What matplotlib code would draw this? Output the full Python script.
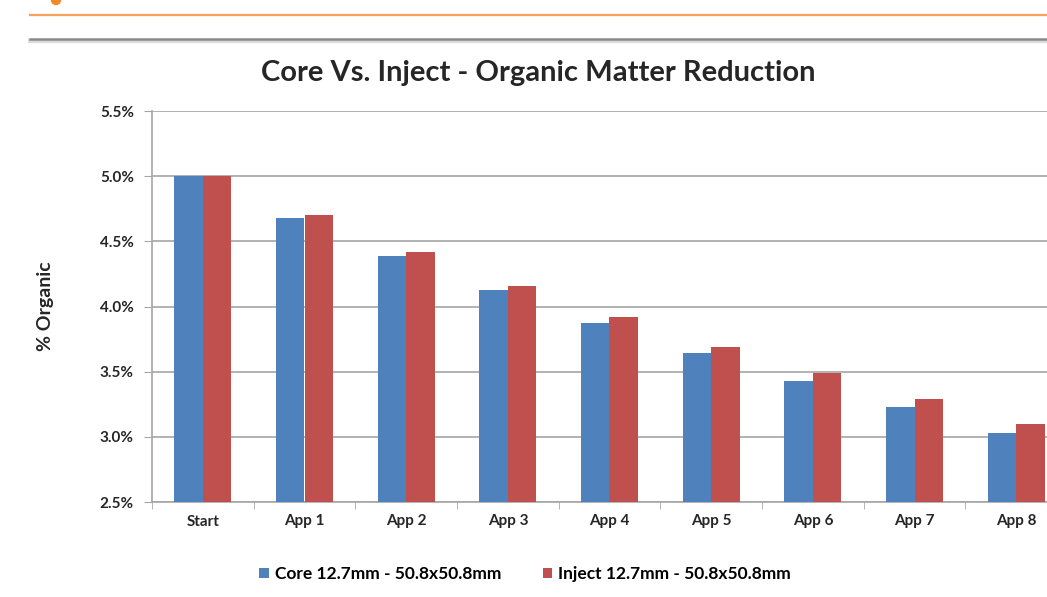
import matplotlib
matplotlib.use("Agg")
import numpy as np
from matplotlib import pyplot as plt
from matplotlib.lines import Line2D
from matplotlib.patches import Ellipse
from matplotlib.ticker import FuncFormatter, FixedLocator

plt.rcParams['font.family'] = ['Lato', 'DejaVu Sans']

# Data (% organic matter)
categories = ["Start", "App 1", "App 2", "App 3", "App 4", "App 5", "App 6", "App 7", "App 8"]
core_values = [5.00, 4.68, 4.39, 4.13, 3.87, 3.64, 3.43, 3.23, 3.03]
inject_values = [5.00, 4.70, 4.42, 4.16, 3.92, 3.69, 3.49, 3.29, 3.10]
series_labels = ["Core 12.7mm - 50.8x50.8mm", "Inject 12.7mm - 50.8x50.8mm"]
y_ticks = [2.5, 3.0, 3.5, 4.0, 4.5, 5.0, 5.5]

blue = "#4F81BD"
red = "#C0504D"
grid_col = "#A6A6A6"
text_col = "#262626"

fig = plt.figure(figsize=(10.47, 5.97), dpi=100)

# page decoration: cut-off heading mark and the two rules at the top
fig.add_artist(Ellipse((56 / 1047, 1.0), 9 / 1047, 9 / 597, color="#F08A2C"))
fig.add_artist(Line2D([30 / 1047, 1.0], [1 - 15 / 597] * 2, color="#F5A25D", lw=1.6))
fig.add_artist(Line2D([30 / 1047, 1.0], [1 - 41 / 597] * 2, color="#DADADA", lw=3.0))
fig.add_artist(Line2D([30 / 1047, 1.0], [1 - 39 / 597] * 2, color="#8A8A8A", lw=1.8))

# axes runs past the right edge, like the cropped original
ax = fig.add_axes([152 / 1047, 95 / 597, 915 / 1047, 391 / 597])

x = np.arange(len(categories))
w = 0.28
ax.bar(x - w / 2, core_values, w, color=blue, linewidth=0, label=series_labels[0], zorder=3)
ax.bar(x + w / 2, inject_values, w, color=red, linewidth=0, label=series_labels[1], zorder=3)

ax.set_xlim(-0.5, len(categories) - 0.5)
ax.set_ylim(2.5, 5.5)
ax.set_yticks(y_ticks)
ax.yaxis.set_major_formatter(FuncFormatter(lambda v, p: f"{v:.1f}%"))
ax.grid(axis="y", color=grid_col, lw=1.2, zorder=0)

ax.set_xticks(x)
ax.set_xticklabels(categories, fontsize=11, fontweight="bold", color=text_col)
ax.xaxis.set_minor_locator(FixedLocator(np.arange(-0.5, len(categories), 1.0)))
ax.tick_params(axis="x", which="major", length=0, pad=9)
ax.tick_params(axis="x", which="minor", length=5, color=grid_col, direction="out")
ax.tick_params(axis="y", length=6, color=grid_col, labelsize=11, labelcolor=text_col, pad=7)
for lab in ax.get_yticklabels():
    lab.set_fontweight("bold")

for s in ["top", "right"]:
    ax.spines[s].set_visible(False)
for s in ["left", "bottom"]:
    ax.spines[s].set_color(grid_col)
    ax.spines[s].set_linewidth(1.2)

ax.set_ylabel("% Organic", fontsize=14, fontweight="bold", color=text_col, labelpad=33)

fig.text(538 / 1047, 1 - 73 / 597, "Core Vs. Inject - Organic Matter Reduction",
         ha="center", va="center", fontsize=21, fontweight="bold", color=text_col)

fig.legend(loc="center", bbox_to_anchor=(525 / 1047, 1 - 574 / 597), ncol=2, frameon=False,
           handlelength=0.55, handleheight=0.55, handletextpad=0.35,
           columnspacing=2.4, prop={"weight": "bold", "size": 12.5})

fig.savefig("out.png", dpi=100)
